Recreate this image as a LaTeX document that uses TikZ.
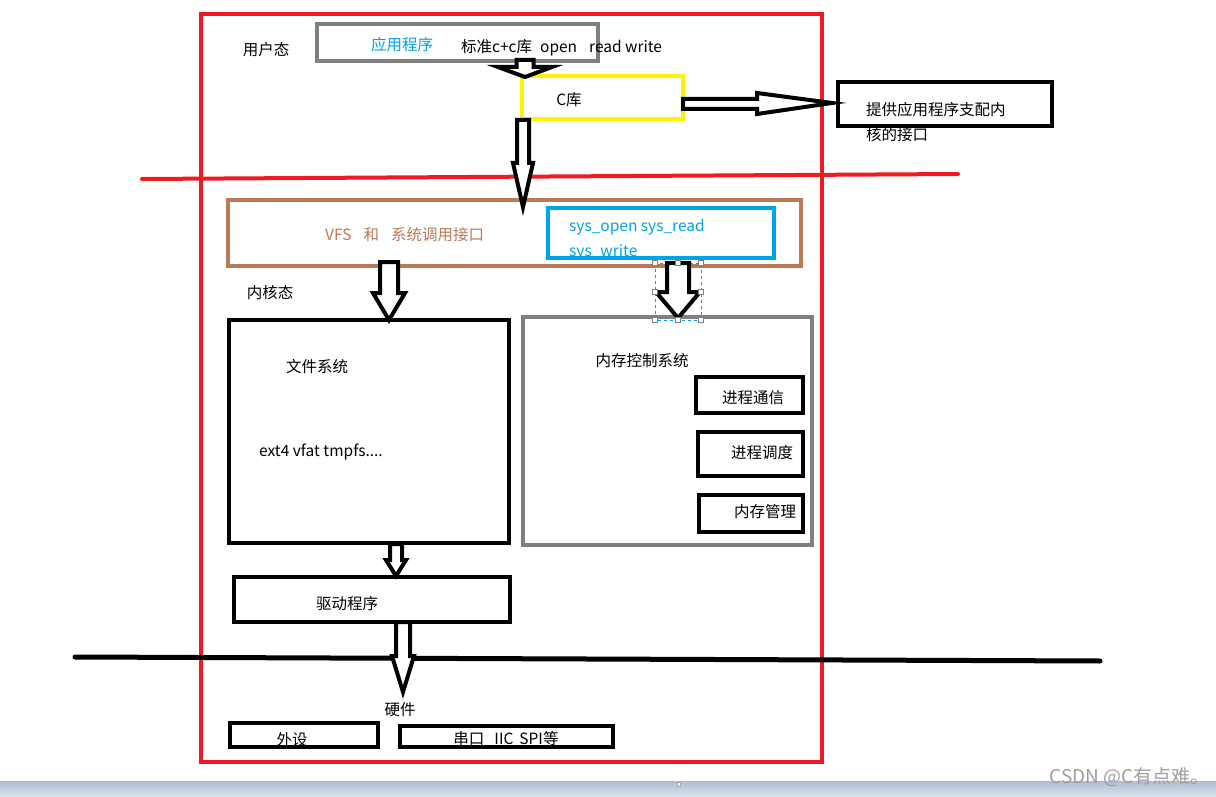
\documentclass[tikz,border=0pt]{standalone}
\usepackage{fontspec}
\setmainfont{Noto Sans CJK SC}
\definecolor{pred}{HTML}{ED1C24}
\definecolor{pgray}{HTML}{7F7F7F}
\definecolor{pyellow}{HTML}{FFF200}
\definecolor{pbrown}{HTML}{B97A57}
\definecolor{pblue}{HTML}{00A2E8}
\definecolor{barA}{HTML}{AEBBD0}
\definecolor{barB}{HTML}{DDE5F1}
\newcommand\barrowdown[6]{%
  \draw[blockarrow] ({#1-#5},#2) -- ({#1+#5},#2) -- ({#1+#5},#3) -- ({#1+#6},#3) -- (#1,#4) -- ({#1-#6},#3) -- ({#1-#5},#3) -- cycle;}
\begin{document}
\begin{tikzpicture}[x=1pt,y=-1pt,
  every node/.style={font=\fontsize{15.5}{18}\selectfont, inner sep=0pt},
  box/.style={draw=#1, line width=4pt, inner sep=0pt, outer sep=0pt},
  blockarrow/.style={draw=black, fill=white, line width=4pt, miter limit=10},
  lbl/.style={anchor=center},
  lblw/.style={anchor=west},
  handle/.style={draw=gray, fill=white, line width=0.6pt, minimum size=4.5pt, inner sep=0pt}]
\useasboundingbox (0,0) rectangle (1216,797);
\fill[white] (0,0) rectangle (1216,797);
% bottom bar
\shade[top color=barA, bottom color=barB] (0,781) rectangle (1216,797);
\node[draw=gray!70, fill=white, line width=0.5pt, minimum width=3pt, minimum height=4pt] (tick) at (679,784) {};
% boxes
\node[box=pred, minimum width=621pt, minimum height=748pt] (outer) at (511.5,388) {};
\node[box=pgray, minimum width=281pt, minimum height=37pt] (app) at (457.5,42.5) {};
\node[box=pyellow, minimum width=161pt, minimum height=43pt] (clib) at (602.5,97.5) {};
\node[box=black, minimum width=214pt, minimum height=44pt] (iface) at (945,104) {};
\node[box=pbrown, minimum width=573pt, minimum height=66pt] (vfs) at (514.5,233) {};
\node[box=pblue, minimum width=226pt, minimum height=50pt] (sys) at (661,233) {};
\node[box=black, minimum width=280pt, minimum height=223pt] (fs) at (369,431.5) {};
\node[box=pgray, minimum width=289pt, minimum height=228pt] (mem) at (667.5,431) {};
\node[box=black, minimum width=107pt, minimum height=36pt] (ipc) at (749.5,395) {};
\node[box=black, minimum width=105pt, minimum height=44pt] (sched) at (750.5,454) {};
\node[box=black, minimum width=104pt, minimum height=37pt] (mm) at (751,513.5) {};
\node[box=black, minimum width=276pt, minimum height=45pt] (drv) at (372,599.5) {};
\node[box=black, minimum width=148pt, minimum height=24pt] (per) at (304,735) {};
\node[box=black, minimum width=213pt, minimum height=21pt] (bus) at (506.5,736.5) {};
% separator lines
\coordinate (redL) at (142,179);
\coordinate (redR) at (958,174);
\draw[pred, line width=4pt, line cap=round] (redL) -- (redR);
\coordinate (blkL) at (75,657);
\coordinate (blkR) at (1100,661);
\draw[black, line width=5pt, line cap=round] (blkL) -- (blkR);
% selection frame
\draw[pblue, line width=0.8pt, dashed] (655,263) rectangle (701,320);
% block arrows
\barrowdown{525}{60}{67}{77}{8.5}{27}
\barrowdown{523}{120}{163}{207}{6}{10}
\barrowdown{389}{262}{293}{320}{9}{16}
\barrowdown{678}{263}{292}{318}{11}{22}
\barrowdown{396}{544}{560}{576}{6}{10}
\barrowdown{403}{622}{656}{692}{7}{11}
\draw[blockarrow] (683,99) -- (757,99) -- (757,93) -- (832,103) -- (757,114) -- (757,109) -- (683,109) -- cycle;
\foreach \n/\p in {h1/{(655,263)},h2/{(678,263)},h3/{(701,263)},h4/{(655,292)},h5/{(701,292)},h6/{(655,320)},h7/{(678,320)},h8/{(701,320)}}
  \node[handle] (\n) at \p {};
% texts
\node[lbl] (t1) at (266,50) {用户态};
\node[lbl, text=pblue] (t2) at (402,45) {应用程序};
\node[lblw] (t3) at (461,48) {标准c+c库\hspace{8pt}open\hspace{12pt}read write};
\node[lbl] (t4) at (569,100) {C库};
\node[lblw] (t5) at (866,110) {提供应用程序支配内};
\node[lblw] (t6) at (866,135) {核的接口};
\node[lblw, text=pbrown] (t7) at (325,235) {VFS\hspace{12pt}和\hspace{12pt}系统调用接口};
\node[lblw, text=pblue] (t8) at (569,227) {sys\_open sys\_read};
\node[lblw, text=pblue] (t9) at (569,252) {sys\_write};
\node[lbl] (t10) at (270,293) {内核态};
\node[lbl] (t11) at (317,367) {文件系统};
\node[lblw] (t12) at (259,452) {ext4 vfat tmpfs....};
\node[lbl] (t13) at (642,361) {内存控制系统};
\node[lbl] (t14) at (753,398) {进程通信};
\node[lbl] (t15) at (762,453) {进程调度};
\node[lbl] (t16) at (765,512) {内存管理};
\node[lbl] (t17) at (347,604) {驱动程序};
\node[lbl] (t18) at (400,710) {硬件};
\node[lbl] (t19) at (292,740) {外设};
\node[lbl] (t20) at (506,739) {串口\hspace{10pt}IIC\hspace{6pt}SPI等};
\node[anchor=east, text=gray!75, font=\fontsize{19}{22}\selectfont] (wm) at (1210,777) {CSDN @C有点难。};
\end{tikzpicture}
\end{document}
